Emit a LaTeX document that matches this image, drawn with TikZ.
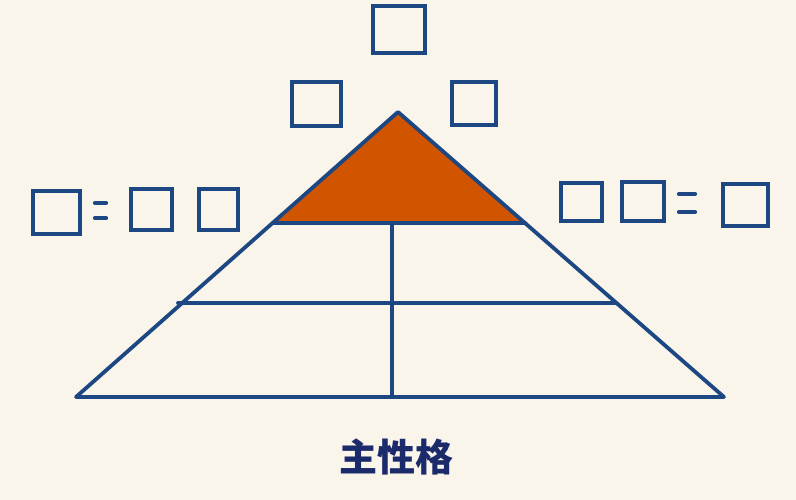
\documentclass[tikz,border=0pt]{standalone}
\usepackage{fontspec}
\newfontfamily\cjk{Noto Sans CJK SC}
\usepackage{tikz}
\definecolor{lineblue}{HTML}{1C4783}
\definecolor{toporange}{HTML}{D15400}
\definecolor{paper}{HTML}{FAF5EA}
\definecolor{textnavy}{HTML}{1B2A6B}

\begin{document}
\begin{tikzpicture}[x=1pt, y=-1pt,
  box/.style={draw=lineblue, line width=3.8, rectangle, inner sep=0, minimum width=#1},
  edge/.style={draw=lineblue, line width=3.8, line cap=round},
  eqbar/.style={draw=lineblue, line width=4.2, line cap=round}]

\useasboundingbox[fill=paper] (0,0) rectangle (796,500);

% pyramid corners

\coordinate (apex) at (398,112);
\coordinate (bl) at (76,397);
\coordinate (br) at (724,397);
\coordinate (tl) at (273,223);
\coordinate (tr) at (525,223);
\coordinate (ml) at (178,303);
\coordinate (mr) at (615,303);
\coordinate (vt) at (392,223);
\coordinate (vb) at (392,397);

% top part

\fill[toporange] (apex) -- (tl) -- (tr) -- cycle;

% outline and rows

\draw[edge, line join=round] (apex) -- (bl) -- (br) -- cycle;
\draw[edge] (tl) -- (tr);
\draw[edge] (ml) -- (mr);
\draw[edge] (vt) -- (vb);

% boxes above

\node[box=52.5, minimum height=47.5] (b0) at (399,29.5) {};
\node[box=49.5, minimum height=44.5] (b1) at (316.5,104) {};
\node[box=44.5, minimum height=43.5] (b2) at (474,103.5) {};

% boxes on the left

\node[box=47.5, minimum height=43.5] (l0) at (56.5,212.5) {};
\node[box=41.5, minimum height=41.5] (l1) at (151.5,209.5) {};
\node[box=39.5, minimum height=41.5] (l2) at (218.5,209.5) {};

% boxes on the right

\node[box=41.5, minimum height=38.5] (r0) at (581.5,202) {};
\node[box=42.5, minimum height=39.5] (r1) at (643,201.5) {};
\node[box=45.5, minimum height=42.5] (r2) at (745.5,205) {};

% equals signs

\draw[eqbar] (95,203) -- (106,203);
\draw[eqbar] (95,218) -- (106,218);
\draw[eqbar] (679,194) -- (695,194);
\draw[eqbar] (679,212) -- (695,212);

% label

\node[text=textnavy, font=\cjk\bfseries\fontsize{38}{40}\selectfont] (name) at (396,457) {主性格};

\end{tikzpicture}
\end{document}
